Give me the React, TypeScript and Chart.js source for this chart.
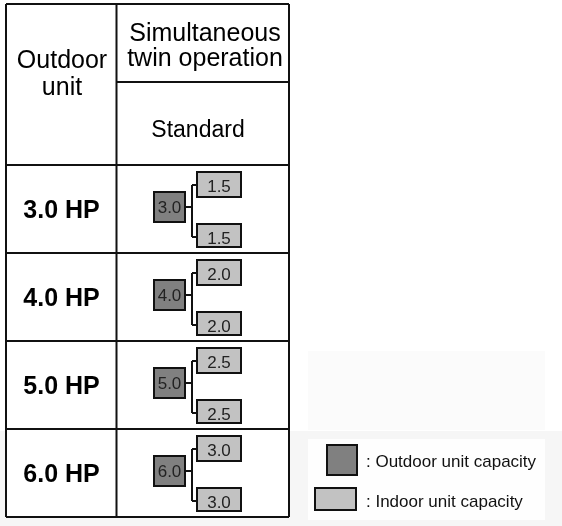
import { useEffect, useRef } from "react";
import { Chart, registerables } from "chart.js";

Chart.register(...registerables);

// ---- data ----
const rowLabels = ["3.0 HP", "4.0 HP", "5.0 HP", "6.0 HP"];
const outdoorCapacity = ["3.0", "4.0", "5.0", "6.0"];
const indoorCapacity = ["1.5", "2.0", "2.5", "3.0"];
const headerCol1 = ["Outdoor", "unit"];
const headerCol2 = ["Simultaneous", "twin operation"];
const subHeader = "Standard";
const legendLabels = [": Outdoor unit capacity", ": Indoor unit capacity"];

// ---- style ----
const FONT = "'Liberation Sans', Arial, Helvetica, sans-serif";
const OUT_FILL = "#808080";
const IN_FILL = "#c2c2c2";
const LINE = "#111111";

const W = 562;
const H = 526;

const tablePlugin = {
  id: "tablePlugin",
  afterDraw(chart: any) {
    const ctx: CanvasRenderingContext2D = chart.ctx;
    const xs = chart.scales.x;
    const ys = chart.scales.y;
    const X = (v: number) => xs.getPixelForValue(v);
    const Y = (v: number) => ys.getPixelForValue(v);

    const rect = (x0: number, y0: number, x1: number, y1: number, fill: string | null, stroke: string | null, lw = 2) => {
      ctx.beginPath();
      ctx.rect(X(x0), Y(y0), X(x1) - X(x0), Y(y1) - Y(y0));
      if (fill) {
        ctx.fillStyle = fill;
        ctx.fill();
      }
      if (stroke) {
        ctx.strokeStyle = stroke;
        ctx.lineWidth = lw;
        ctx.stroke();
      }
    };
    const line = (x0: number, y0: number, x1: number, y1: number, lw = 2, c = LINE) => {
      ctx.beginPath();
      ctx.moveTo(X(x0), Y(y0));
      ctx.lineTo(X(x1), Y(y1));
      ctx.strokeStyle = c;
      ctx.lineWidth = lw;
      ctx.stroke();
    };
    const text = (s: string, x: number, y: number, size: number, weight = "normal", align: CanvasTextAlign = "center", color = "#000") => {
      ctx.font = `${weight} ${size}px ${FONT}`;
      ctx.fillStyle = color;
      ctx.textAlign = align;
      ctx.textBaseline = "alphabetic";
      ctx.fillText(s, X(x), Y(y));
    };

    ctx.save();

    // faint background regions
    rect(0, 431, W, H, "#f6f6f6", null);
    rect(308, 351, 545, 430, "#fbfbfb", null);
    rect(308, 439, 545, 520, "#fefefe", null);

    // table geometry
    const left = 6;
    const mid = 116.5;
    const right = 289;
    const top = 4;
    const hMid = 82;
    const hBot = 165;
    const rowH = 88;
    const bottom = hBot + rowH * rowLabels.length;

    rect(left, top, right, bottom, "#ffffff", null);

    // grid lines
    line(left, top, right, top);
    line(left, bottom, right, bottom);
    line(left, top, left, bottom);
    line(right, top, right, bottom);
    line(mid, top, mid, bottom);
    line(mid, hMid, right, hMid);
    line(left, hBot, right, hBot);
    rowLabels.forEach((_, i) => {
      if (i > 0) line(left, hBot + i * rowH, right, hBot + i * rowH);
    });

    // headers
    text(headerCol1[0], 62, 68, 25);
    text(headerCol1[1], 62, 95, 25);
    text(headerCol2[0], 205, 41, 25);
    text(headerCol2[1], 205, 66, 25);
    text(subHeader, 198, 137, 23);

    // rows
    rowLabels.forEach((lab, i) => {
      const t = hBot + i * rowH;
      text(lab, 61.5, t + 53, 25, "bold");

      // connectors
      line(185, t + 42, 192, t + 42);
      line(192, t + 20, 192, t + 72);
      line(192, t + 20, 197, t + 20);
      line(192, t + 72, 197, t + 72);

      // outdoor box
      rect(154, t + 27, 185, t + 57, OUT_FILL, LINE);
      text(outdoorCapacity[i], 169.5, t + 48, 17, "normal", "center", "#222");

      // indoor boxes
      rect(197, t + 7, 241, t + 32, IN_FILL, LINE);
      text(indoorCapacity[i], 219, t + 27, 17, "normal", "center", "#222");
      rect(197, t + 59, 241, t + 82, IN_FILL, LINE);
      text(indoorCapacity[i], 219, t + 79, 17, "normal", "center", "#222");
    });

    // legend
    rect(327, 445, 357, 475, OUT_FILL, LINE);
    text(legendLabels[0], 366, 467, 17, "normal", "left", "#111");
    rect(315, 488, 356, 510, IN_FILL, LINE);
    text(legendLabels[1], 366, 507, 17, "normal", "left", "#111");

    ctx.restore();
  },
};

export default function App() {
  const ref = useRef<HTMLCanvasElement | null>(null);

  useEffect(() => {
    if (!ref.current) return;
    const chart = new Chart(ref.current, {
      type: "scatter",
      data: {
        datasets: [
          {
            label: "layout",
            data: [],
          },
        ],
      },
      options: {
        animation: false,
        responsive: false,
        maintainAspectRatio: false,
        devicePixelRatio: 1,
        layout: { padding: 0 },
        plugins: {
          legend: { display: false },
          tooltip: { enabled: false },
          title: { display: false },
        },
        scales: {
          x: { type: "linear", min: 0, max: W, display: false },
          y: { type: "linear", min: 0, max: H, reverse: true, display: false },
        },
      },
      plugins: [tablePlugin],
    });
    return () => chart.destroy();
  }, []);

  return (
    <div style={{ position: "fixed", left: 0, top: 0, width: W, height: H, background: "#ffffff" }}>
      <canvas ref={ref} width={W} height={H} style={{ width: W, height: H, display: "block" }} />
    </div>
  );
}
